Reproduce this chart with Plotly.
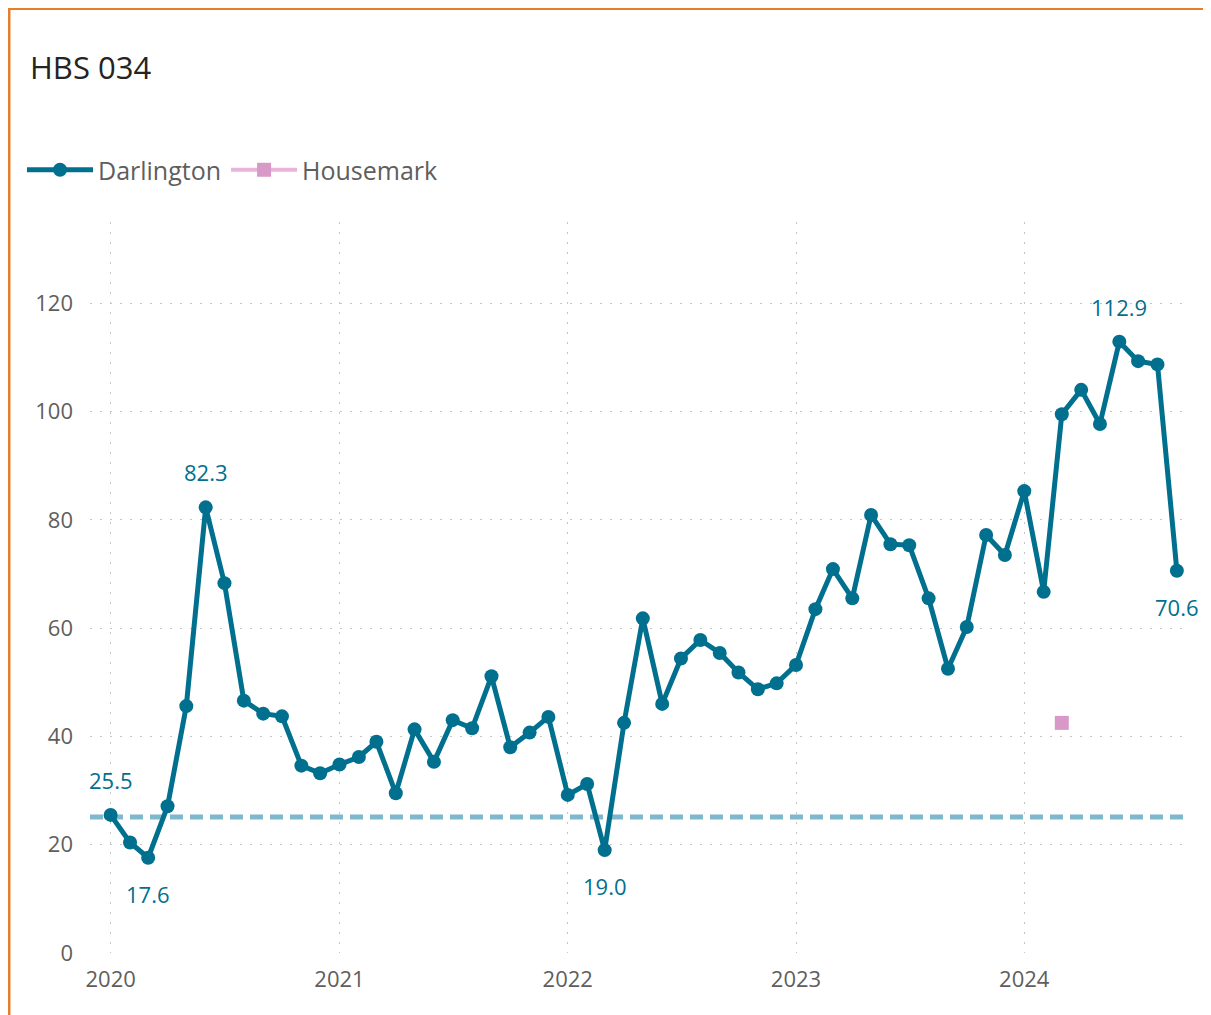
import pandas as pd
import plotly.graph_objects as go

# ---- data ----
start_month = "2020-01-01"
darlington = [
    25.5, 20.4, 17.6, 27.1, 45.6, 82.3, 68.3, 46.6, 44.2, 43.7, 34.6, 33.2,   # 2020
    34.8, 36.2, 39.0, 29.5, 41.3, 35.3, 43.0, 41.5, 51.1, 38.0, 40.7, 43.6,   # 2021
    29.2, 31.2, 19.0, 42.5, 61.8, 46.0, 54.4, 57.8, 55.4, 51.8, 48.7, 49.8,   # 2022
    53.2, 63.5, 70.9, 65.5, 80.9, 75.5, 75.3, 65.5, 52.5, 60.2, 77.2, 73.5,   # 2023
    85.3, 66.7, 99.5, 104.0, 97.7, 112.9, 109.3, 108.7, 70.6,                  # 2024
]
housemark_dates = ["2024-03-01"]
housemark_values = [42.5]
target_value = 25.1
label_idx_above = [0, 5, 53]
label_idx_below = [2, 26, 56]
year_ticks = ["2020-01-01", "2021-01-01", "2022-01-01", "2023-01-01", "2024-01-01"]
year_labels = ["2020", "2021", "2022", "2023", "2024"]
y_ticks = [0, 20, 40, 60, 80, 100, 120]

dates = pd.date_range(start_month, periods=len(darlington), freq="MS")

TEAL = "#01708F"
PINK = "#D899C9"
FONT = "Open Sans"
GREY = "#605E5C"

W, H = 1203, 1007
L, R, T, B = 82, 21, 214, 62
PW, PH = W - L - R, H - T - B

fig = go.Figure()
fig.add_trace(go.Scatter(
    x=dates, y=darlington, name="Darlington", mode="lines+markers",
    line=dict(color=TEAL, width=5), marker=dict(color=TEAL, size=14),
))
fig.add_trace(go.Scatter(
    x=pd.to_datetime(housemark_dates), y=housemark_values, name="Housemark",
    mode="lines+markers", line=dict(color="#E8B4DC", width=4),
    marker=dict(color=PINK, size=14, symbol="square"),
))

annotations = []
for i in label_idx_above:
    annotations.append(dict(x=dates[i], y=darlington[i], text=f"{darlington[i]:.1f}",
                            showarrow=False, yshift=35,
                            font=dict(family=FONT, size=22, color=TEAL)))
for i in label_idx_below:
    annotations.append(dict(x=dates[i], y=darlington[i], text=f"{darlington[i]:.1f}",
                            showarrow=False, yshift=-36,
                            font=dict(family=FONT, size=22, color=TEAL)))

ORANGE = "#E47F2D"
shapes = [
    dict(type="line", xref="paper", yref="y", x0=0, x1=1, y0=target_value, y1=target_value,
         line=dict(color="#7DB8CD", width=5, dash="13px,7px"), layer="below"),
    # orange frame (left and top)
    dict(type="line", xref="paper", yref="paper", x0=(1 - L) / PW, x1=(1 - L) / PW,
         y0=(PH + T + 2) / PH, y1=-0.2, line=dict(color=ORANGE, width=3)),
    dict(type="line", xref="paper", yref="paper", x0=(-2 - L) / PW, x1=(W + 10 - L) / PW,
         y0=(PH + T - 0.5) / PH, y1=(PH + T - 0.5) / PH, line=dict(color=ORANGE, width=3)),
]

fig.update_layout(
    width=W, height=H,
    margin=dict(l=L, r=R, t=T, b=B),
    paper_bgcolor="white", plot_bgcolor="white",
    font=dict(family=FONT, color=GREY),
    title=dict(text="HBS 034", x=22 / W, xref="container", xanchor="left",
               y=1 - 60 / H, yref="container", yanchor="middle",
               font=dict(family=FONT, size=31, color="#252423")),
    legend=dict(orientation="h", x=14 / W, xref="container", xanchor="left",
                y=1 - 162 / H, yref="container", yanchor="middle",
                font=dict(family=FONT, size=25, color=GREY), itemwidth=66,
                tracegroupgap=0),
    showlegend=True,
    annotations=annotations,
    shapes=shapes,
)
fig.update_xaxes(
    type="date", range=["2019-11-29", "2024-09-22"],
    tickvals=pd.to_datetime(year_ticks), ticktext=year_labels,
    showgrid=True, gridcolor="#C8C6C4", gridwidth=1, griddash="2px,8px",
    zeroline=False, showline=False, ticks="",
    tickfont=dict(family=FONT, size=22, color=GREY), ticklabelstandoff=11,
)
fig.update_yaxes(
    range=[0, 135], tickvals=y_ticks,
    showgrid=True, gridcolor="#C8C6C4", gridwidth=1, griddash="2px,8px",
    zeroline=False, showline=False, ticks="",
    tickfont=dict(family=FONT, size=22, color=GREY), ticklabelstandoff=16,
)

fig.write_html("out.html")
